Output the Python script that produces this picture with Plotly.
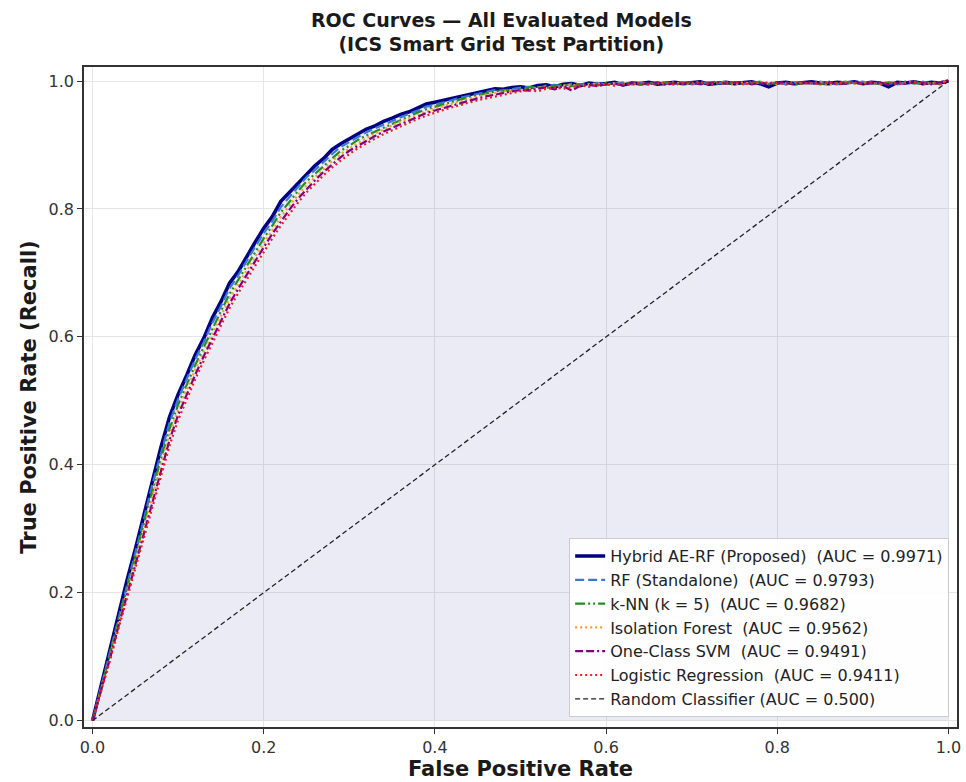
import numpy as np
import plotly.graph_objects as go

# Shared false-positive-rate sample positions (0.00 .. 1.00, step 0.01)
fpr = np.round(np.linspace(0, 1, 101), 2)

tpr_hybrid = [
    0.000, 0.055, 0.110, 0.165, 0.218, 0.268, 0.322, 0.378, 0.428, 0.475,
    0.510, 0.540, 0.572, 0.598, 0.630, 0.655, 0.684, 0.702, 0.726, 0.748,
    0.770, 0.788, 0.812, 0.826, 0.842, 0.856, 0.868, 0.879, 0.893, 0.902,
    0.910, 0.917, 0.925, 0.930, 0.937, 0.942, 0.948, 0.952, 0.958, 0.964,
    0.967, 0.970, 0.973, 0.977, 0.979, 0.983, 0.986, 0.988, 0.987, 0.990,
    0.991, 0.989, 0.993, 0.994, 0.991, 0.995, 0.996, 0.993, 0.997, 0.995,
    0.996, 0.998, 0.994, 0.997, 0.996, 0.998, 0.995, 0.997, 0.998, 0.996,
    0.997, 0.999, 0.995, 0.997, 0.998, 0.996, 0.997, 0.999, 0.996, 0.991,
    0.997, 0.998, 0.996, 0.997, 0.999, 0.997, 0.996, 0.998, 0.997, 0.999,
    0.996, 0.998, 0.997, 0.991, 0.998, 0.997, 0.999, 0.996, 0.998, 0.997,
    1.000]

tpr_rf = [
    0.000, 0.052, 0.106, 0.160, 0.212, 0.262, 0.315, 0.370, 0.420, 0.466,
    0.503, 0.533, 0.565, 0.592, 0.622, 0.648, 0.676, 0.696, 0.719, 0.741,
    0.762, 0.781, 0.803, 0.819, 0.835, 0.850, 0.861, 0.874, 0.886, 0.897,
    0.905, 0.912, 0.920, 0.926, 0.932, 0.938, 0.944, 0.949, 0.954, 0.960,
    0.963, 0.967, 0.970, 0.974, 0.977, 0.980, 0.983, 0.986, 0.985, 0.988,
    0.990, 0.991, 0.989, 0.993, 0.994, 0.992, 0.996, 0.995, 0.993, 0.997,
    0.995, 0.996, 0.998, 0.995, 0.997, 0.994, 0.998, 0.996, 0.997, 0.998,
    0.995, 0.997, 0.998, 0.996, 0.999, 0.997, 0.995, 0.998, 0.997, 0.996,
    0.998, 0.995, 0.998, 0.997, 0.996, 0.999, 0.997, 0.995, 0.998, 0.997,
    0.999, 0.996, 0.998, 0.997, 0.995, 0.998, 0.997, 0.999, 0.996, 0.998,
    1.000]

tpr_knn = [
    0.000, 0.050, 0.102, 0.155, 0.206, 0.255, 0.307, 0.360, 0.410, 0.456,
    0.494, 0.525, 0.556, 0.584, 0.613, 0.640, 0.667, 0.689, 0.711, 0.733,
    0.754, 0.774, 0.795, 0.811, 0.828, 0.843, 0.855, 0.868, 0.880, 0.891,
    0.899, 0.908, 0.915, 0.921, 0.928, 0.934, 0.940, 0.945, 0.951, 0.956,
    0.960, 0.964, 0.968, 0.971, 0.975, 0.978, 0.981, 0.983, 0.986, 0.985,
    0.988, 0.990, 0.991, 0.989, 0.993, 0.994, 0.992, 0.995, 0.996, 0.993,
    0.997, 0.995, 0.996, 0.998, 0.994, 0.997, 0.996, 0.998, 0.995, 0.997,
    0.998, 0.996, 0.997, 0.999, 0.995, 0.998, 0.996, 0.997, 0.999, 0.995,
    0.997, 0.998, 0.994, 0.998, 0.997, 0.995, 0.998, 0.997, 0.999, 0.996,
    0.997, 0.998, 0.995, 0.998, 0.997, 0.999, 0.996, 0.998, 0.997, 0.996,
    1.000]

tpr_iforest = [
    0.000, 0.048, 0.098, 0.150, 0.200, 0.249, 0.300, 0.352, 0.401, 0.447,
    0.486, 0.518, 0.549, 0.577, 0.606, 0.633, 0.660, 0.682, 0.704, 0.727,
    0.747, 0.767, 0.788, 0.805, 0.822, 0.837, 0.850, 0.863, 0.875, 0.886,
    0.895, 0.903, 0.911, 0.918, 0.924, 0.931, 0.937, 0.942, 0.948, 0.953,
    0.957, 0.961, 0.965, 0.969, 0.972, 0.976, 0.979, 0.981, 0.984, 0.986,
    0.985, 0.988, 0.990, 0.991, 0.989, 0.993, 0.994, 0.992, 0.995, 0.996,
    0.994, 0.997, 0.995, 0.996, 0.998, 0.995, 0.997, 0.996, 0.998, 0.994,
    0.997, 0.998, 0.996, 0.997, 0.998, 0.995, 0.998, 0.996, 0.997, 0.999,
    0.995, 0.997, 0.998, 0.996, 0.997, 0.998, 0.995, 0.997, 0.998, 0.996,
    0.998, 0.997, 0.995, 0.998, 0.996, 0.997, 0.999, 0.995, 0.997, 0.998,
    1.000]

tpr_ocsvm = [
    0.000, 0.046, 0.095, 0.146, 0.195, 0.243, 0.293, 0.345, 0.393, 0.439,
    0.478, 0.511, 0.541, 0.570, 0.598, 0.626, 0.652, 0.675, 0.697, 0.720,
    0.740, 0.761, 0.781, 0.799, 0.816, 0.831, 0.845, 0.858, 0.870, 0.881,
    0.891, 0.899, 0.907, 0.914, 0.921, 0.927, 0.933, 0.939, 0.944, 0.950,
    0.954, 0.958, 0.962, 0.966, 0.970, 0.973, 0.976, 0.979, 0.982, 0.984,
    0.986, 0.985, 0.988, 0.990, 0.987, 0.992, 0.985, 0.993, 0.994, 0.992,
    0.995, 0.996, 0.993, 0.997, 0.995, 0.996, 0.998, 0.994, 0.997, 0.996,
    0.998, 0.995, 0.997, 0.998, 0.996, 0.997, 0.999, 0.995, 0.997, 0.996,
    0.998, 0.997, 0.995, 0.998, 0.996, 0.997, 0.999, 0.995, 0.997, 0.998,
    0.996, 0.997, 0.998, 0.995, 0.997, 0.996, 0.998, 0.997, 0.995, 0.998,
    1.000]

tpr_logreg = [
    0.000, 0.044, 0.092, 0.142, 0.190, 0.237, 0.286, 0.337, 0.385, 0.430,
    0.470, 0.503, 0.534, 0.563, 0.590, 0.618, 0.645, 0.668, 0.690, 0.712,
    0.733, 0.754, 0.774, 0.793, 0.810, 0.826, 0.840, 0.853, 0.865, 0.876,
    0.886, 0.895, 0.903, 0.910, 0.917, 0.923, 0.930, 0.935, 0.941, 0.946,
    0.951, 0.955, 0.959, 0.963, 0.967, 0.970, 0.973, 0.976, 0.979, 0.981,
    0.984, 0.986, 0.984, 0.988, 0.990, 0.988, 0.991, 0.993, 0.991, 0.994,
    0.995, 0.993, 0.996, 0.994, 0.997, 0.995, 0.996, 0.998, 0.994, 0.997,
    0.996, 0.998, 0.995, 0.997, 0.996, 0.998, 0.995, 0.997, 0.998, 0.996,
    0.997, 0.995, 0.998, 0.996, 0.997, 0.995, 0.998, 0.996, 0.997, 0.998,
    0.995, 0.997, 0.996, 0.998, 0.995, 0.997, 0.998, 0.996, 0.997, 0.995,
    1.000]

random_x = [0.0, 1.0]
random_y = [0.0, 1.0]

NB = "\u00a0"
series_names = [
    f"Hybrid AE-RF (Proposed){NB} (AUC = 0.9971)",
    f"RF (Standalone){NB} (AUC = 0.9793)",
    f"k-NN (k = 5){NB} (AUC = 0.9682)",
    f"Isolation Forest{NB} (AUC = 0.9562)",
    f"One-Class SVM{NB} (AUC = 0.9491)",
    f"Logistic Regression{NB} (AUC = 0.9411)",
]
random_name = "Random Classifier (AUC = 0.500)"

series_values = [tpr_hybrid, tpr_rf, tpr_knn, tpr_iforest, tpr_ocsvm, tpr_logreg]
series_styles = [
    dict(color="#000080", width=3.6, dash="solid"),
    dict(color="#3a78d8", width=2.2, dash="9px,4px"),
    dict(color="#1f8f1f", width=2.2, dash="10px,3px,2px,3px,2px,3px"),
    dict(color="#ff9a2e", width=2.2, dash="2px,3px"),
    dict(color="#800080", width=2.2, dash="8px,3px,8px,3px,2px,3px"),
    dict(color="#ee1c25", width=2.2, dash="2px,3px"),
]

fig = go.Figure()

# shaded area under the proposed model's curve
fig.add_trace(go.Scatter(
    x=fpr, y=tpr_hybrid, mode="lines", fill="tozeroy",
    fillcolor="rgba(0,0,128,0.08)", line=dict(width=0, color="rgba(0,0,0,0)"),
    showlegend=False, hoverinfo="skip"))

for name, vals, style in zip(series_names, series_values, series_styles):
    fig.add_trace(go.Scatter(x=fpr, y=vals, mode="lines", name=name, line=style))

fig.add_trace(go.Scatter(
    x=random_x, y=random_y, mode="lines", name=random_name,
    line=dict(color="#222222", width=1.3, dash="5px,3px")))

axis_common = dict(
    showline=True, linecolor="#333333", linewidth=1.5, mirror=True,
    ticks="outside", ticklen=5, tickwidth=1.2, tickcolor="#333333",
    showgrid=True, gridcolor="#e6e6e6", gridwidth=1, zeroline=False,
    tickfont=dict(family="DejaVu Sans", size=16, color="#333333"),
    tickvals=[0, 0.2, 0.4, 0.6, 0.8, 1.0],
    ticktext=["0.0", "0.2", "0.4", "0.6", "0.8", "1.0"],
)

fig.update_layout(
    width=966, height=782,
    margin=dict(l=84, r=5, t=67, b=55),
    paper_bgcolor="white", plot_bgcolor="white",
    font=dict(family="DejaVu Sans", color="#222222"),
    title=dict(
        text="<b>ROC Curves — All Evaluated Models<br>(ICS Smart Grid Test Partition)</b>",
        x=0.519, xref="container", xanchor="center",
        y=0.966, yref="container", yanchor="top",
        font=dict(family="DejaVu Sans", size=19, color="#1a1a1a")),
    xaxis=dict(range=[-0.01, 1.01],
               title=dict(text="<b>False Positive Rate</b>", standoff=5,
                          font=dict(family="DejaVu Sans", size=21, color="#1a1a1a")),
               **axis_common),
    yaxis=dict(range=[-0.01, 1.022],
               title=dict(text="<b>True Positive Rate (Recall)</b>", standoff=6,
                          font=dict(family="DejaVu Sans", size=21, color="#1a1a1a")),
               **axis_common),
    legend=dict(
        x=0.991, y=0.015, xanchor="right", yanchor="bottom",
        bgcolor="rgba(255,255,255,0.92)", bordercolor="#cccccc", borderwidth=1,
        font=dict(family="DejaVu Sans", size=16, color="#222222"),
        tracegroupgap=0),
)

fig.write_html("out.html")
